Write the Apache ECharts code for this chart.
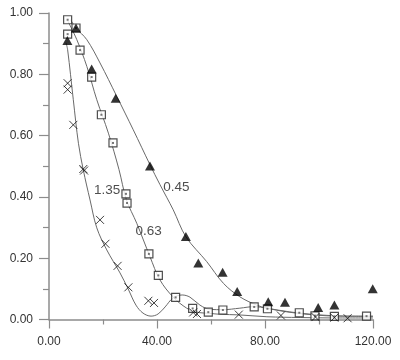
<!DOCTYPE html>
<html>
<head>
<meta charset="utf-8">
<script src="https://cdn.jsdelivr.net/npm/echarts@6/dist/echarts.min.js"></script>
<style>html,body{margin:0;padding:0;background:#fff;}#c{width:400px;height:360px;}</style>
</head>
<body>
<div id="c"></div>
<script>
// ---- data ----
const xTicks = [0, 40, 80, 120];
const yTicks = [0, 0.2, 0.4, 0.6, 0.8, 1.0];
const curveNames = ['0.45', '0.63', '1.35'];

const triangles = [[6.8,0.910],[10.0,0.951],[15.8,0.817],[24.7,0.722],[37.4,0.501],[50.7,0.271],[55.3,0.184],[64.3,0.154],[69.7,0.091],[81.2,0.058],[87.4,0.056],[99.7,0.039],[105.7,0.047],[119.9,0.100]];
const squares = [[6.9,0.978],[6.9,0.931],[10.0,0.951],[11.5,0.879],[15.8,0.791],[19.4,0.668],[23.7,0.576],[28.5,0.410],[28.9,0.380],[37.0,0.214],[40.5,0.144],[46.9,0.072],[53.2,0.036],[59.0,0.024],[64.4,0.031],[76.0,0.041],[80.9,0.035],[92.7,0.022],[98.5,0.012],[105.7,0.010],[117.6,0.011]];
const crosses = [[6.9,0.771],[6.9,0.750],[9.0,0.635],[12.7,0.491],[13.0,0.486],[18.9,0.325],[20.9,0.247],[25.4,0.175],[29.4,0.105],[36.8,0.061],[38.9,0.054],[53.4,0.023],[54.8,0.018],[70.3,0.016],[85.9,0.013],[98.7,0.008],[105.7,0.006],[110.6,0.004]];

const curve045 = [[8.0,0.978],[10.0,0.951],[14.0,0.913],[18.9,0.837],[25.1,0.728],[31.2,0.619],[37.4,0.505],[41.1,0.440],[46.0,0.358],[50.7,0.270],[58.4,0.189],[64.6,0.118],[70.7,0.074],[76.9,0.047],[80.6,0.037],[88.0,0.025],[97.9,0.015],[107.8,0.011],[120.0,0.011]];
const curve063 = [[6.9,0.975],[10.3,0.913],[14.0,0.826],[17.7,0.717],[22.0,0.608],[25.9,0.490],[28.7,0.390],[32.5,0.314],[37.4,0.205],[41.1,0.129],[46.0,0.073],[51.0,0.037],[54.7,0.024],[59.6,0.020],[63.3,0.017],[70.4,0.015],[80.7,0.009],[93.0,0.0065],[107.8,0.005],[120.0,0.005]];
const curve135 = [[6.3,0.903],[6.9,0.880],[9.0,0.717],[10.9,0.575],[12.7,0.488],[15.2,0.390],[17.7,0.299],[21.4,0.227],[26.3,0.152],[29.3,0.100],[32.2,0.047],[34.8,0.021],[37.8,0.011],[40.4,0.018],[43.0,0.041],[45.9,0.070],[49.3,0.080],[52.2,0.073],[55.9,0.047],[59.6,0.033],[64.4,0.032],[70.7,0.037],[76.0,0.042],[80.6,0.037],[89.0,0.025],[100.0,0.015],[110.0,0.011],[120.0,0.010]];

// ---- chart ----
const font = "'Liberation Sans Narrow','Arial Narrow','Liberation Sans',sans-serif";
const axisGray = '#8c8c8c';
const chart = echarts.init(document.getElementById('c'), null, {renderer: 'canvas'});

function curveSeries(data) {
  return {
    type: 'line', data: data, smooth: 0.35, showSymbol: false, symbol: 'none',
    lineStyle: {color: '#6a6a6a', width: 1}, z: 2, silent: true
  };
}

chart.setOption({
  animation: false,
  backgroundColor: '#fff',
  grid: {left: 49, right: 27, top: 13, bottom: 40.5, containLabel: false},
  xAxis: {
    type: 'value', min: xTicks[0], max: xTicks[xTicks.length - 1], interval: xTicks[1] - xTicks[0],
    splitLine: {show: false},
    axisLine: {show: true, lineStyle: {color: axisGray, width: 1.5}},
    axisTick: {show: true, length: 9, lineStyle: {color: axisGray, width: 1.2}},
    minorTick: {show: true, splitNumber: 2, length: 5, lineStyle: {color: axisGray, width: 1.2}},
    axisLabel: {margin: 16, color: '#333', fontSize: 12, fontFamily: font, formatter: v => v.toFixed(2)}
  },
  yAxis: {
    type: 'value', min: yTicks[0], max: yTicks[yTicks.length - 1], interval: yTicks[1] - yTicks[0],
    splitLine: {show: false},
    axisLine: {show: true, onZero: false, lineStyle: {color: axisGray, width: 1.5}},
    axisTick: {show: true, length: 10, lineStyle: {color: axisGray, width: 1.2}},
    minorTick: {show: true, splitNumber: 2, length: 6, lineStyle: {color: axisGray, width: 1.2}},
    axisLabel: {margin: 16, color: '#333', fontSize: 12, fontFamily: font, formatter: v => v.toFixed(2)}
  },
  series: [
    curveSeries(curve045),
    curveSeries(curve063),
    curveSeries(curve135),
    {
      type: 'scatter', data: triangles, symbol: 'triangle', symbolSize: [10, 9],
      itemStyle: {color: '#000'}, z: 5
    },
    {
      type: 'scatter', data: squares, symbol: 'rect', symbolSize: 8,
      itemStyle: {color: '#fff', borderColor: '#222', borderWidth: 1.2}, z: 4
    },
    {
      type: 'scatter', data: squares, symbol: 'rect', symbolSize: 2,
      itemStyle: {color: '#555'}, z: 4.5
    },
    {
      type: 'scatter', data: crosses, symbol: 'path://M0,0L10,10M10,0L0,10', symbolSize: 8,
      itemStyle: {color: 'none', borderColor: '#111', borderWidth: 1}, z: 6
    },
    {
      type: 'scatter', symbol: 'circle', symbolSize: 2, silent: true, z: 7,
      itemStyle: {color: 'rgba(0,0,0,0)'},
      data: [
        {value: [47.2, 0.431], name: curveNames[0]},
        {value: [36.9, 0.289], name: curveNames[1]},
        {value: [21.5, 0.421], name: curveNames[2]}
      ],
      label: {show: true, position: 'inside', formatter: p => p.name, color: '#222', fontSize: 13.5, fontFamily: font}
    }
  ]
});
</script>
</body>
</html>
